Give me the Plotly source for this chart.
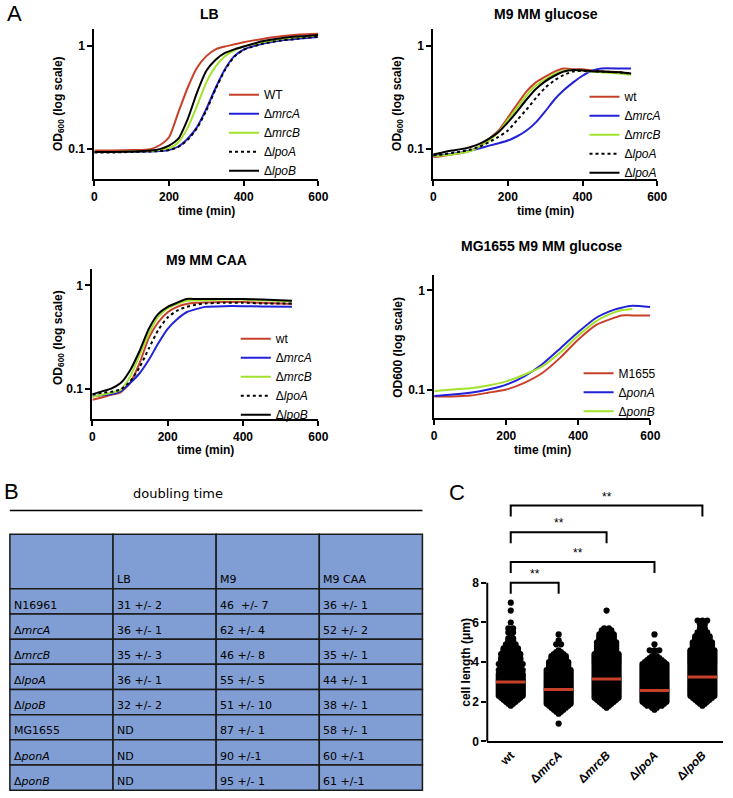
import plotly.graph_objects as go

W, H = 733, 798

# ---------------- DATA ----------------
# Panel A: LB
t_lb = [0, 50, 100, 150, 175, 200, 225, 250, 275, 300, 325, 350, 375, 400, 450, 500, 550, 600]
lb_wt   = [0.096, 0.096, 0.097, 0.099, 0.108, 0.129, 0.225, 0.39, 0.61, 0.79, 0.92, 0.98, 1.03, 1.08, 1.16, 1.23, 1.28, 1.30]
lb_mrcA = [0.093, 0.093, 0.093, 0.094, 0.095, 0.097, 0.105, 0.125, 0.162, 0.243, 0.39, 0.59, 0.79, 0.916, 1.04, 1.12, 1.17, 1.21]
lb_mrcB = [0.093, 0.093, 0.094, 0.095, 0.097, 0.101, 0.115, 0.16, 0.26, 0.44, 0.63, 0.79, 0.90, 0.98, 1.08, 1.16, 1.21, 1.25]
lb_lpoA = [0.092, 0.092, 0.093, 0.094, 0.095, 0.097, 0.104, 0.122, 0.158, 0.235, 0.38, 0.58, 0.78, 0.91, 1.04, 1.12, 1.17, 1.22]
lb_lpoB = [0.093, 0.093, 0.094, 0.096, 0.099, 0.107, 0.125, 0.194, 0.35, 0.57, 0.73, 0.85, 0.92, 0.98, 1.10, 1.18, 1.23, 1.27]

# Panel A: M9 MM glucose
t_glc = [0, 25, 50, 75, 100, 125, 150, 175, 200, 225, 250, 275, 300, 325, 350, 375, 400, 425, 450, 500, 530]
glc_wt    = [0.083, 0.085, 0.088, 0.091, 0.096, 0.105, 0.125, 0.15, 0.20, 0.27, 0.36, 0.44, 0.50, 0.56, 0.60, 0.59, 0.59, 0.575, 0.565, 0.55, 0.53]
glc_mrcA  = [0.086, 0.087, 0.089, 0.092, 0.096, 0.101, 0.107, 0.113, 0.12, 0.132, 0.15, 0.18, 0.23, 0.30, 0.37, 0.44, 0.51, 0.57, 0.60, 0.60, 0.60]
glc_mrcB  = [0.085, 0.086, 0.088, 0.091, 0.095, 0.105, 0.12, 0.145, 0.19, 0.25, 0.33, 0.41, 0.47, 0.53, 0.57, 0.58, 0.57, 0.56, 0.55, 0.535, 0.52]
glc_lpoA  = [0.086, 0.088, 0.091, 0.094, 0.098, 0.105, 0.116, 0.13, 0.15, 0.19, 0.24, 0.31, 0.39, 0.46, 0.52, 0.56, 0.57, 0.565, 0.56, 0.55, 0.53]
glc_lpoA2 = [0.088, 0.092, 0.096, 0.099, 0.104, 0.112, 0.125, 0.145, 0.18, 0.23, 0.30, 0.38, 0.45, 0.51, 0.56, 0.58, 0.575, 0.565, 0.56, 0.55, 0.535]

# Panel A: M9 MM CAA
t_caa = [0, 25, 50, 75, 100, 125, 150, 175, 200, 225, 250, 275, 300, 350, 400, 450, 530]
caa_wt   = [0.078, 0.082, 0.087, 0.092, 0.113, 0.175, 0.31, 0.44, 0.55, 0.62, 0.66, 0.68, 0.685, 0.69, 0.69, 0.68, 0.66]
caa_mrcA = [0.084, 0.086, 0.088, 0.094, 0.113, 0.14, 0.19, 0.275, 0.38, 0.47, 0.55, 0.59, 0.62, 0.63, 0.63, 0.625, 0.62]
caa_mrcB = [0.083, 0.087, 0.091, 0.097, 0.13, 0.21, 0.34, 0.50, 0.60, 0.66, 0.71, 0.72, 0.72, 0.73, 0.73, 0.72, 0.70]
caa_lpoA = [0.088, 0.091, 0.093, 0.098, 0.117, 0.16, 0.245, 0.37, 0.49, 0.57, 0.62, 0.65, 0.67, 0.68, 0.68, 0.67, 0.67]
caa_lpoB = [0.088, 0.094, 0.100, 0.113, 0.15, 0.23, 0.38, 0.53, 0.62, 0.68, 0.74, 0.74, 0.74, 0.74, 0.74, 0.73, 0.71]

# Panel A: MG1655 M9 MM glucose
t_mg = [0, 50, 100, 150, 200, 250, 300, 350, 400, 450, 500, 520, 550, 600]
mg_wt   = [0.085, 0.085, 0.087, 0.093, 0.100, 0.117, 0.147, 0.21, 0.32, 0.45, 0.53, 0.56, 0.56, 0.56]
mg_ponA = [0.086, 0.089, 0.093, 0.100, 0.112, 0.136, 0.18, 0.26, 0.38, 0.53, 0.64, 0.67, 0.70, 0.68]
mg_ponB = [0.096, 0.100, 0.103, 0.110, 0.121, 0.141, 0.171, 0.236, 0.35, 0.49, 0.60, 0.63, 0.65, None]

# Panel B: doubling time table
table_header = ["", "LB", "M9", "M9 CAA"]
strains = ["N16961", "Δ<i>mrcA</i>", "Δ<i>mrcB</i>", "Δ<i>lpoA</i>", "Δ<i>lpoB</i>",
           "MG1655", "Δ<i>ponA</i>", "Δ<i>ponB</i>"]
dt_lb = ["31 +/- 2", "36 +/- 1", "35 +/- 3", "36 +/- 1", "32 +/- 2", "ND", "ND", "ND"]
dt_m9 = ["46\u00a0\u00a0+/- 7", "62 +/- 4", "46 +/- 8", "55 +/- 5", "51 +/- 10", "87 +/- 1", "90 +/-1", "95 +/- 1"]
dt_caa = ["36 +/- 1", "52 +/- 2", "35 +/- 1", "44 +/- 1", "38 +/- 1", "58 +/- 1", "60 +/-1", "61 +/-1"]

# Panel C: cell length (counts of cells per 0.1 um bin)
c_groups = ["wt", "Δ<i>mrcA</i>", "Δ<i>mrcB</i>", "Δ<i>lpoA</i>", "Δ<i>lpoB</i>"]
length_bins = [0.9, 1.0, 1.1, 1.2, 1.3, 1.4, 1.5, 1.6, 1.7, 1.8,
               1.9, 2.0, 2.1, 2.2, 2.3, 2.4, 2.5, 2.6, 2.7, 2.8,
               2.9, 3.0, 3.1, 3.2, 3.3, 3.4, 3.5, 3.6, 3.7, 3.8,
               3.9, 4.0, 4.1, 4.2, 4.3, 4.4, 4.5, 4.6, 4.7, 4.8,
               4.9, 5.0, 5.1, 5.2, 5.3, 5.4, 5.5, 5.6, 5.7, 5.8,
               5.9, 6.0, 6.1, 6.2, 6.3, 6.4, 6.5, 6.6, 6.7, 6.8,
               6.9, 7.0]
cnt_wt = [0, 0, 0, 0, 0, 0, 0, 0, 0, 1,
          2, 3, 4, 5, 6, 6, 6, 6, 6, 6,
          6, 6, 6, 6, 6, 6, 5, 6, 5, 5,
          6, 5, 5, 5, 4, 5, 4, 4, 4, 3,
          3, 2, 2, 2, 1, 1, 2, 1, 2, 0,
          0, 1, 0, 0, 0, 0, 0, 1, 0, 0,
          0, 1]
cnt_mrcA = [1, 0, 0, 0, 0, 1, 2, 3, 4, 5,
            6, 6, 6, 6, 6, 6, 6, 6, 6, 6,
            6, 6, 6, 6, 6, 6, 6, 6, 5, 5,
            5, 5, 4, 4, 4, 3, 2, 1, 0, 0,
            2, 0, 1, 0, 0, 1, 0, 0, 0, 0,
            0, 0, 0, 0, 0, 0, 0, 0, 0, 0,
            0, 0]
cnt_mrcB = [0, 0, 0, 0, 0, 0, 0, 0, 1, 2,
            3, 4, 5, 6, 6, 6, 6, 6, 6, 6,
            6, 6, 6, 6, 6, 6, 6, 6, 6, 6,
            6, 6, 6, 6, 6, 6, 5, 5, 5, 5,
            5, 5, 4, 4, 4, 4, 3, 3, 2, 0,
            0, 0, 0, 0, 0, 0, 0, 1, 0, 0,
            0, 0]
cnt_lpoA = [0, 0, 0, 0, 0, 0, 0, 1, 2, 4,
            5, 6, 6, 6, 6, 6, 6, 6, 6, 6,
            6, 6, 6, 6, 6, 6, 6, 6, 6, 6,
            6, 5, 4, 3, 2, 1, 0, 3, 0, 0,
            1, 0, 0, 0, 0, 1, 0, 0, 0, 0,
            0, 0, 0, 0, 0, 0, 0, 0, 0, 0,
            0, 0]
cnt_lpoB = [0, 0, 0, 0, 0, 0, 0, 0, 0, 1,
            2, 3, 4, 5, 6, 6, 6, 6, 6, 6,
            6, 6, 6, 6, 6, 6, 6, 6, 6, 6,
            6, 6, 6, 6, 6, 6, 6, 6, 5, 5,
            5, 5, 4, 4, 4, 3, 3, 2, 2, 0,
            2, 1, 3, 0, 0, 0, 0, 0, 0, 0,
            0, 0]
c_medians = [3.0, 2.62, 3.15, 2.57, 3.25]
# significance brackets: (group a, group b, label)
c_brackets = [(0, 4, "**"), (0, 2, "**"), (0, 3, "**"), (0, 1, "**")]

# ---------------- STYLE ----------------
RED, BLUE, GREEN, BLACK = "#c8402a", "#2222d8", "#a2e22a", "#000000"
ARIAL = "Liberation Sans, Arial, sans-serif"
DEJAVU = "DejaVu Sans, sans-serif"
TABLE_BLUE = "#809ed3"


def fx(px):
    return px / W


def fy(py):
    return 1 - py / H


fig = go.Figure()

# plot boxes in pixels: left, right, top, bottom, y pixel of "1", y pixel of "0.1"
boxes = [
    (93, 321, 29, 181, 46, 150),
    (438, 666, 29, 181, 46, 150),
    (91, 321, 271, 423, 288, 392),
    (439, 659, 277, 422, 293, 393),
]

axis_common = dict(showline=True, linecolor="black", linewidth=2, ticks="outside",
                   ticklen=5, tickwidth=2, tickcolor="black", showgrid=False,
                   zeroline=False, tickfont=dict(family=ARIAL, size=12, color="black", weight="bold"))

for i, (l, r, t, b, y1, y01) in enumerate(boxes, start=1):
    dec = y01 - y1
    top = (y1 - t) / dec
    bot = -1 - (b - y01) / dec
    sfx = "" if i == 1 else str(i)
    fig.update_layout(**{
        "xaxis" + sfx: dict(domain=[fx(l), fx(r)], range=[0, 600], tickvals=[0, 200, 400, 600],
                            anchor="y" + sfx, **axis_common),
        "yaxis" + sfx: dict(domain=[fy(b), fy(t)], type="log", range=[bot, top],
                            tickvals=[0.1, 1], ticktext=["0.1", "1"], anchor="x" + sfx, **axis_common),
    })


def add_curve(times, vals, name, color, dash, n, legend):
    sfx = "" if n == 1 else str(n)
    fig.add_trace(go.Scatter(x=times, y=vals, mode="lines", name=name,
                             line=dict(color=color, width=2, dash=dash, shape="spline", smoothing=0.6),
                             xaxis="x" + sfx, yaxis="y" + sfx, legend=legend))


add_curve(t_lb, lb_wt, "WT", RED, "solid", 1, "legend")
add_curve(t_lb, lb_mrcA, "Δ<i>mrcA</i>", BLUE, "solid", 1, "legend")
add_curve(t_lb, lb_mrcB, "Δ<i>mrcB</i>", GREEN, "solid", 1, "legend")
add_curve(t_lb, lb_lpoA, "Δ<i>lpoA</i>", BLACK, "dot", 1, "legend")
add_curve(t_lb, lb_lpoB, "Δ<i>lpoB</i>", BLACK, "solid", 1, "legend")

add_curve(t_glc, glc_wt, "wt", RED, "solid", 2, "legend2")
add_curve(t_glc, glc_mrcA, "Δ<i>mrcA</i>", BLUE, "solid", 2, "legend2")
add_curve(t_glc, glc_mrcB, "Δ<i>mrcB</i>", GREEN, "solid", 2, "legend2")
add_curve(t_glc, glc_lpoA, "Δ<i>lpoA</i>", BLACK, "dot", 2, "legend2")
add_curve(t_glc, glc_lpoA2, "Δ<i>lpoA</i>", BLACK, "solid", 2, "legend2")

add_curve(t_caa, caa_wt, "wt", RED, "solid", 3, "legend3")
add_curve(t_caa, caa_mrcA, "Δ<i>mrcA</i>", BLUE, "solid", 3, "legend3")
add_curve(t_caa, caa_mrcB, "Δ<i>mrcB</i>", GREEN, "solid", 3, "legend3")
add_curve(t_caa, caa_lpoA, "Δ<i>lpoA</i>", BLACK, "dot", 3, "legend3")
add_curve(t_caa, caa_lpoB, "Δ<i>lpoB</i>", BLACK, "solid", 3, "legend3")

add_curve(t_mg, mg_wt, "M1655", RED, "solid", 4, "legend4")
add_curve(t_mg, mg_ponA, "Δ<i>ponA</i>", BLUE, "solid", 4, "legend4")
add_curve(t_mg, mg_ponB, "Δ<i>ponB</i>", GREEN, "solid", 4, "legend4")

legend_style = dict(xanchor="left", yanchor="top", bgcolor="rgba(0,0,0,0)",
                    font=dict(family=ARIAL, size=12, color="black"), tracegroupgap=0)
fig.update_layout(
    legend=dict(x=fx(225), y=fy(81), **legend_style),
    legend2=dict(x=fx(592), y=fy(83), **legend_style),
    legend3=dict(x=fx(237), y=fy(327), **legend_style),
    legend4=dict(x=fx(586), y=fy(362), **legend_style),
)

shapes = []
annotations = []


def ann(text, px, py, size=12, bold=True, angle=0, family=ARIAL, xanchor="center"):
    annotations.append(dict(text=text, x=fx(px), y=fy(py), xref="paper", yref="paper",
                            showarrow=False, textangle=angle, xanchor=xanchor, yanchor="middle",
                            font=dict(family=family, size=size, color="black",
                                      weight="bold" if bold else "normal")))


# ---------------- Panel B table (cells drawn as rectangles + text) ----------------
tb_left, tb_right, tb_top = 7, 427, 539
head_h, row_h = 55, 25.4
n_cols = len(table_header)
col_w = (tb_right - tb_left) / n_cols
columns = [strains, dt_lb, dt_m9, dt_caa]
row_edges = [tb_top, tb_top + head_h] + [tb_top + head_h + row_h * (k + 1) for k in range(len(strains))]
for ci in range(n_cols):
    cl = tb_left + ci * col_w
    texts = [table_header[ci]] + columns[ci]
    for ri in range(len(texts)):
        rt, rb = row_edges[ri], row_edges[ri + 1]
        shapes.append(dict(type="rect", xref="paper", yref="paper",
                           x0=fx(cl), x1=fx(cl + col_w), y0=fy(rb), y1=fy(rt),
                           fillcolor=TABLE_BLUE, line=dict(color="#1a1a1a", width=1.5), layer="below"))
        if texts[ri]:
            ann(texts[ri], cl + 2, rb - 9, 11, bold=False, family=DEJAVU, xanchor="left")

# line under "doubling time"
shapes.append(dict(type="line", xref="paper", yref="paper", x0=fx(7), x1=fx(427), y0=fy(515), y1=fy(515),
                   line=dict(color="black", width=1.5)))

# ---------------- Panel C ----------------
SP = 0.1
for gi, cnts in enumerate([cnt_wt, cnt_mrcA, cnt_mrcB, cnt_lpoA, cnt_lpoB]):
    xs, ys = [], []
    for b, n in zip(length_bins, cnts):
        for k in range(n):
            xs.append(gi + (k - (n - 1) / 2) * SP)
            ys.append(b)
    fig.add_trace(go.Scatter(x=xs, y=ys, mode="markers", showlegend=False,
                             marker=dict(size=6.2, color="black", line=dict(width=0)),
                             xaxis="x5", yaxis="y5"))
mx, my = [], []
for gi, m in enumerate(c_medians):
    mx += [gi - 0.31, gi + 0.31, None]
    my += [m, m, None]
fig.add_trace(go.Scatter(x=mx, y=my, mode="lines", showlegend=False,
                         line=dict(color=RED, width=3), xaxis="x5", yaxis="y5"))

c_left, c_right, c_bottom = 493, 733, 748
unit = 20.0
y_top_val = 12.8
fig.update_layout(
    xaxis5=dict(domain=[fx(c_left), fx(c_right)], range=[-0.49, 4.43], tickvals=list(range(5)),
                ticktext=c_groups, tickangle=-45, showline=True, linecolor="black", linewidth=2,
                ticks="", showgrid=False, zeroline=False, anchor="y5",
                tickfont=dict(family=ARIAL, size=12, color="black", weight="bold")),
    yaxis5=dict(domain=[fy(c_bottom), fy(c_bottom - y_top_val * unit)], range=[0, y_top_val],
                tickvals=[0, 2, 4, 6, 8], showline=False, ticks="outside", ticklen=5, tickwidth=2,
                tickcolor="black", showgrid=False, zeroline=False, anchor="x5",
                tickfont=dict(family=ARIAL, size=12, color="black", weight="bold")),
)

# y axis line 0..8
shapes.append(dict(type="line", xref="x5 domain", yref="y5", x0=0, x1=0, y0=0, y1=8,
                   line=dict(color="black", width=2)))
bracket_levels = [11.9, 10.55, 9.05, 8.0]
label_x = [2.0, 1.0, 1.4, 0.5]
for (a, b, lab), lev, lx in zip(c_brackets, bracket_levels, label_x):
    shapes.append(dict(type="path", xref="x5", yref="y5",
                       path=f"M{a},{lev - 0.55} L{a},{lev} L{b},{lev} L{b},{lev - 0.55}",
                       line=dict(color="black", width=2)))
    annotations.append(dict(x=lx, y=lev + 0.45, xref="x5", yref="y5",
                            text=lab, showarrow=False,
                            font=dict(family=ARIAL, size=12, color="black")))

# titles
ann("LB", 210, 14, 14)
ann("M9 MM glucose", 553, 14, 14)
ann("M9 MM CAA", 207, 262, 14)
ann("MG1655 M9 MM glucose", 548, 248, 14)
# axis titles
ann("time (min)", 207, 213)
ann("time (min)", 552, 213)
ann("time (min)", 206, 454)
ann("time (min)", 549, 454)
ann("OD<sub>600</sub> (log scale)", 57, 104, angle=-90)
ann("OD<sub>600</sub> (log scale)", 402, 104, angle=-90)
ann("OD<sub>600</sub> (log scale)", 57, 340, angle=-90)
ann("OD600 (log scale)", 402, 350, angle=-90)
ann("cell length (μm)", 472, 668, angle=-90)
# panel letters
ann("A", 12, 14, 22, bold=False)
ann("B", 9, 496, 22, bold=False)
ann("C", 462, 497, 22, bold=False)
# table title
ann("doubling time", 178, 498, 13, bold=False, family=DEJAVU)

# the figure fills the whole browser window (all positions are fractions of it)
fig.update_layout(autosize=True, margin=dict(l=0, r=0, t=0, b=0, pad=0),
                  paper_bgcolor="white", plot_bgcolor="white",
                  shapes=shapes, annotations=annotations, showlegend=True)

fig.write_html(
    "out.html",
    config={"displayModeBar": False, "responsive": True},
    default_width="100%",
    default_height="100%",
    post_script=("document.documentElement.style.height='100%';"
                 "document.body.style.margin='0px';"
                 "document.body.style.height='100%';"
                 "document.body.style.overflow='hidden';"
                 "Plotly.Plots.resize(document.getElementById('{plot_id}'));"),
)
